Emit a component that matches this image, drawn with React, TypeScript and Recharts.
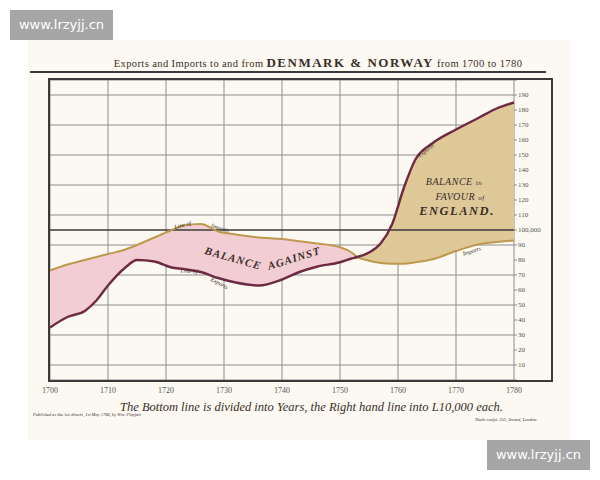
import React from "react";
import { ComposedChart, Line, Area, XAxis, YAxis, CartesianGrid, ReferenceLine } from "recharts";

const years = [1700, 1703, 1706, 1708, 1710, 1713, 1715, 1718, 1721, 1723, 1726, 1729, 1732, 1736, 1740, 1743, 1746, 1750, 1752, 1753, 1755, 1757, 1759, 1761, 1763, 1766, 1770, 1774, 1777, 1780];
const exportsK = [35, 42, 46, 53, 63, 75, 80, 79, 75, 74, 72, 68, 65, 63, 67, 72, 75.5, 78.5, 81, 82, 85, 91, 104, 128, 147, 158, 167, 175, 181, 185];
const importsK = [73, 77, 80, 82, 84, 87, 90, 95, 100, 103, 104, 99, 97, 95, 94, 92.5, 91, 88.5, 85, 82, 79.5, 78, 77.5, 77.5, 78.5, 80.5, 86, 90.5, 92, 93];
const crossYear = 1753;
const xTicks = [1700, 1710, 1720, 1730, 1740, 1750, 1760, 1770, 1780];
const yTicks = [0, 10, 20, 30, 40, 50, 60, 70, 80, 90, 100, 110, 120, 130, 140, 150, 160, 170, 180, 190, 200];

const rows = years.map((year, i) => ({
  year,
  exports: exportsK[i],
  imports: importsK[i],
  against: year <= crossYear ? [exportsK[i], importsK[i]] : null,
  favour: year >= crossYear ? [importsK[i], exportsK[i]] : null,
}));

const serif = "'Liberation Serif', 'DejaVu Serif', serif";
const ink = "#3a2e28";

export default function App() {
  return (
    <div style={{ position: "absolute", left: 0, top: 0, width: 600, height: 480, background: "#ffffff", overflow: "hidden", fontFamily: serif }}>
      <div style={{ position: "absolute", left: 28, top: 40, width: 542, height: 400, background: "#fbf9f1" }} />
      <div style={{ position: "absolute", left: 0, top: 0 }}>
        <ComposedChart width={600} height={480} data={rows} margin={{ top: 80, right: 50, bottom: 80, left: 50 }} style={{ fontFamily: serif }}>
          <CartesianGrid stroke="#8d8d8d" strokeWidth={1} />
          <XAxis
            type="number"
            dataKey="year"
            domain={[1700, 1780]}
            ticks={xTicks}
            tickLine={false}
            axisLine={false}
            height={20}
            tickMargin={1}
            tick={{ fontSize: 8, fill: "#555", fontFamily: serif }}
          />
          <YAxis
            orientation="right"
            type="number"
            domain={[0, 200]}
            ticks={yTicks}
            width={36}
            axisLine={false}
            tickSize={3}
            tickMargin={1}
            tickLine={{ stroke: "#8d8d8d" }}
            tick={{ fontSize: 7, fill: "#555", fontFamily: serif }}
            tickFormatter={(v: number) => (v === 0 || v === 200 ? "" : v === 100 ? "100,000" : String(v))}
          />
          <Area type="monotone" dataKey="against" stroke="none" fill="#f2cdd3" fillOpacity={1} isAnimationActive={false} connectNulls={false} />
          <Area type="monotone" dataKey="favour" stroke="none" fill="#dfc898" fillOpacity={1} isAnimationActive={false} connectNulls={false} />
          <ReferenceLine y={100} stroke="#3a3a3a" strokeWidth={1.6} />
          <Line type="monotone" dataKey="imports" stroke="#bf9850" strokeWidth={2} dot={false} isAnimationActive={false} />
          <Line type="monotone" dataKey="exports" stroke="#6e2a42" strokeWidth={2.4} dot={false} isAnimationActive={false} />
        </ComposedChart>
      </div>
      <div style={{ position: "absolute", left: 48, top: 78, width: 501, height: 300, border: "2px solid #3a3a3a" }} />
      <div style={{ position: "absolute", left: 30, top: 71, width: 516, height: 2, background: "#3a3a3a" }} />
      <svg width={600} height={480} style={{ position: "absolute", left: 0, top: 0, pointerEvents: "none" }}>
        <text x={318} y={67} textAnchor="middle" fontFamily={serif} fill={ink} fontSize={10.5} letterSpacing={0.4}>
          Exports and Imports to and from <tspan fontSize={13} fontWeight="600" letterSpacing={1.5}>DENMARK &amp; NORWAY</tspan> from 1700 to 1780
        </text>
        <text x={233} y={262} textAnchor="middle" fontFamily={serif} fontStyle="italic" fontWeight="bold" fontSize={11} fill={ink} letterSpacing={1} transform="rotate(16 233 259)">BALANCE</text>
        <text x={294} y={262} textAnchor="middle" fontFamily={serif} fontStyle="italic" fontWeight="bold" fontSize={11} fill={ink} letterSpacing={1} transform="rotate(-17 294 258)">AGAINST</text>
        <text x={454} y={185} textAnchor="middle" fontFamily={serif} fontStyle="italic" fontSize={10} fill={ink} letterSpacing={0.5}>BALANCE <tspan fontSize={7}>in</tspan></text>
        <text x={460} y={200} textAnchor="middle" fontFamily={serif} fontStyle="italic" fontSize={10} fill={ink} letterSpacing={0.5}>FAVOUR <tspan fontSize={7}>of</tspan></text>
        <text x={457} y={215} textAnchor="middle" fontFamily={serif} fontStyle="italic" fontWeight="bold" fontSize={12.5} fill={ink} letterSpacing={1.5}>ENGLAND.</text>
        <text x={183} y={227} textAnchor="middle" fontFamily={serif} fontStyle="italic" fontSize={6} fill={ink} transform="rotate(-14 183 226)">Line of</text>
        <text x={220} y={230} textAnchor="middle" fontFamily={serif} fontStyle="italic" fontSize={6} fill={ink} transform="rotate(18 220 229)">Imports</text>
        <text x={189} y={273} textAnchor="middle" fontFamily={serif} fontStyle="italic" fontSize={6} fill={ink} transform="rotate(5 189 272)">Line of</text>
        <text x={219} y={285} textAnchor="middle" fontFamily={serif} fontStyle="italic" fontSize={6} fill={ink} transform="rotate(28 219 284)">Exports</text>
        <text x={427} y={152} textAnchor="middle" fontFamily={serif} fontStyle="italic" fontSize={6} fill={ink} transform="rotate(-38 427 152)">Exports</text>
        <text x={472} y={253} textAnchor="middle" fontFamily={serif} fontStyle="italic" fontSize={6} fill={ink} transform="rotate(-18 472 252)">Imports</text>
        <text x={120} y={411} fontFamily={serif} fontStyle="italic" fontSize={12.5} fill={ink}>The Bottom line is divided into Years, the Right hand line into L10,000 each.</text>
        <text x={33} y={416} fontFamily={serif} fontStyle="italic" fontSize={4.5} fill={ink}>Published as the Act directs, 1st May 1786, by Wm. Playfair</text>
        <text x={475} y={421} fontFamily={serif} fontStyle="italic" fontSize={4.5} fill={ink}>Neele sculpt. 352, Strand, London.</text>
      </svg>
      <div style={{ position: "absolute", left: 10, top: 10, width: 103, height: 30, background: "#a6a6a6", color: "#ffffff", fontFamily: "'DejaVu Sans', sans-serif", fontSize: 13, lineHeight: "30px", textAlign: "center" }}>www.lrzyjj.cn</div>
      <div style={{ position: "absolute", left: 487, top: 440, width: 103, height: 30, background: "#a6a6a6", color: "#ffffff", fontFamily: "'DejaVu Sans', sans-serif", fontSize: 13, lineHeight: "30px", textAlign: "center" }}>www.lrzyjj.cn</div>
    </div>
  );
}
